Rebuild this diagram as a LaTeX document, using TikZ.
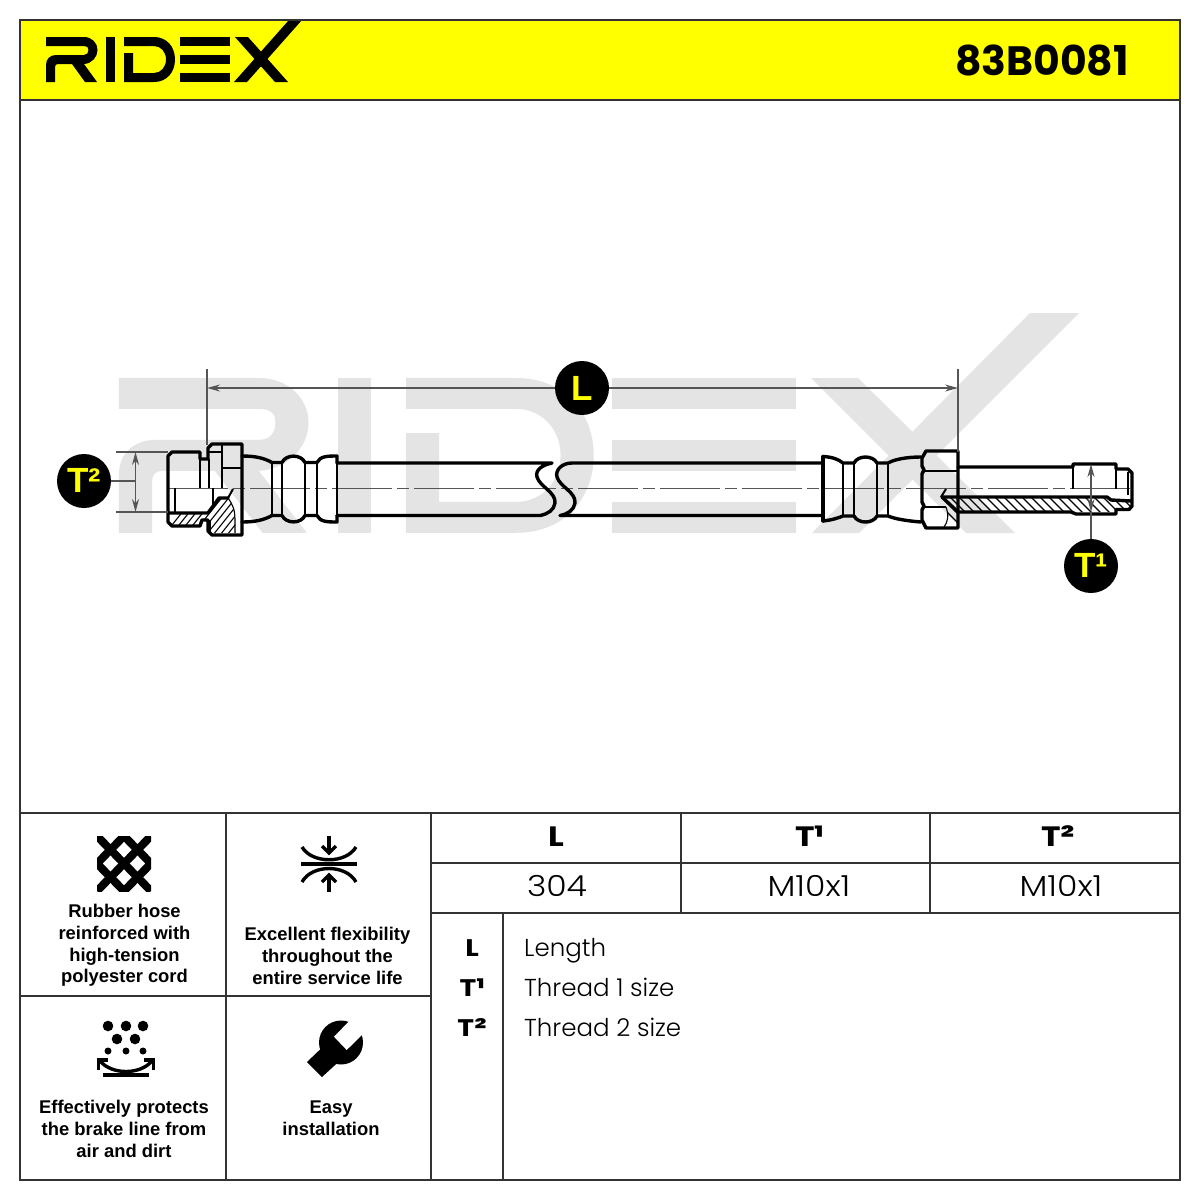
\documentclass[tikz,border=0pt]{standalone}
\usepackage{fontspec}
\setmainfont{Poppins}
\newfontfamily\capfont{Liberation Sans}
\newfontfamily\markfont{Liberation Sans}
\newfontfamily\valfont[FakeStretch=1.14,UprightFont={* Light}]{Poppins}
\newfontfamily\legfont[UprightFont={* Light}]{Poppins}
\newfontfamily\headfont[FakeStretch=1.18,BoldFont={* Bold}]{Poppins}
\usetikzlibrary{arrows.meta}
\definecolor{wm}{HTML}{E4E4E4}
\definecolor{frameC}{HTML}{333333}
\definecolor{dimC}{HTML}{555555}
\definecolor{hdr}{HTML}{FFFF00}
\newcommand{\logoride}[1]{%
  \fill[#1] (46,37) -- (84,37) .. controls (92,37) and (97.5,43) .. (97.5,50) .. controls (97.5,57) and (92,63.5) .. (84,64) -- (97,82) -- (85,82) -- (72,64) -- (58,64) .. controls (56,64) and (55,65) .. (55,67) -- (55,82) -- (46,82) -- (46,65) .. controls (46,59) and (50,55) .. (56,55) -- (84,55) .. controls (87,55) and (88.5,53) .. (88.5,50) .. controls (88.5,47) and (87,46) .. (84,46) -- (46,46) -- cycle;
  \fill[#1] (105.5,37) rectangle (114.5,82);
  \fill[#1] (124,37) -- (154,37) .. controls (167,37) and (175,47) .. (175,59.5) .. controls (175,72) and (167,82) .. (154,82) -- (124,82) -- (124,53) -- (133,53) -- (133,73) -- (154,73) .. controls (161,73) and (166,67) .. (166,59.5) .. controls (166,52) and (161,46) .. (154,46) -- (124,46) -- cycle;
  \fill[#1] (180,37) rectangle (230,46);
  \fill[#1] (180,55) rectangle (230,64);
  \fill[#1] (180,73) rectangle (230,82);
}
\tikzset{
  outline/.style={line width=3.4pt,line join=round,line cap=round,black},
  inner/.style={line width=2pt,black},
  thinl/.style={line width=1.1pt,black},
  dimline/.style={line width=1.3pt,dimC},
  dimarrow/.style={line width=1.3pt,dimC,{Stealth[length=13pt,width=7pt]}-{Stealth[length=13pt,width=7pt]}},
  badge/.style={circle,fill=black,minimum size=54pt,inner sep=0pt,text=hdr,font=\markfont\bfseries\fontsize{35}{35}\selectfont},
  grid/.style={line width=2pt,frameC},
  caption/.style={align=center,font=\capfont\bfseries\fontsize{18.4}{21.7}\selectfont,text=black,inner sep=0pt},
  headcell/.style={font=\headfont\bfseries\fontsize{28}{28}\selectfont,text=black,inner sep=0pt,anchor=base},
  valcell/.style={font=\valfont\fontsize{29}{29}\selectfont,text=black,inner sep=0pt,anchor=base},
  legkey/.style={font=\headfont\bfseries\fontsize{24}{24}\selectfont,text=black,inner sep=0pt,anchor=base},
  legval/.style={font=\legfont\fontsize{24.5}{24.5}\selectfont,text=black,inner sep=0pt,anchor=base west},
}
\newcommand{\bigsup}[3]{\raisebox{#1pt}{\fontsize{#2}{#2}\selectfont #3}}
\begin{document}
\begin{tikzpicture}[x=1pt,y=-1pt]
\useasboundingbox (0,0) rectangle (1200,1200);
\fill[white] (0,0) rectangle (1200,1200);
% header
\fill[hdr] (20,20) rectangle (1180,100);
\logoride{black}
\fill[black] (235,37) -- (248,37) -- (288,82) -- (275,82) -- cycle;
\fill[black] (234,82) -- (289,20) -- (302,20) -- (247,82) -- cycle;
\node[font=\bfseries\fontsize{41}{41}\selectfont,inner sep=0pt] (code) at (1042,60) {83B0081};
% watermark
\begin{scope}[shift={(-50.3,250.7)},x=3.68pt,y=-3.44pt]
  \logoride{wm}
\end{scope}
\fill[wm] (811,378) -- (858,378) -- (1015,533) -- (966,533) -- cycle;
\fill[wm] (812,533) -- (859,533) -- (1079,313) -- (1030,313) -- cycle;
% frame and table
\draw[grid] (20,100) -- (1180,100);
\draw[grid] (20,813) -- (1180,813);
\draw[grid] (226,813) -- (226,1180);
\draw[grid] (431,813) -- (431,1180);
\draw[grid] (20,996) -- (431,996);
\draw[grid] (431,863) -- (1180,863);
\draw[grid] (431,913) -- (1180,913);
\draw[grid] (681,813) -- (681,913);
\draw[grid] (930,813) -- (930,913);
\draw[grid] (503,913) -- (503,1180);
\draw[grid] (20,20) rectangle (1180,1180);
% centre line
\draw[line width=1.5pt,dimC,dash pattern=on 60pt off 5pt on 12pt off 5pt] (168,488.5) -- (1133,488.5);
% hatching left
\begin{scope}
  \clip (171,513) -- (208,513) -- (219,498) -- (228,498) .. controls (233,505) and (235,510) .. (235,520) -- (235,533) -- (210,533) -- (210,520) -- (202,520) -- (200,526) -- (172,526) -- cycle;
  \foreach \k in {0,7,...,100} \draw[thinl] (160+\k,540) -- (200+\k,490);
\end{scope}
% hatching right
\begin{scope}
  \clip (942,497) -- (1107,497) -- (1111,500) -- (1130,501) -- (1130,509) -- (1116,510) -- (1116,512) -- (1073,512) -- (958,512) -- (958,527) -- (950,527) -- (947,510) -- cycle;
  \foreach \k in {0,9,...,220} \draw[thinl] (925+\k,490) -- (965+\k,530);
\end{scope}
% left fitting
\draw[outline] (172,452) -- (200,452) -- (200,459) -- (208,459) -- (208,448) -- (212,444) -- (242,444) -- (242,535) -- (212,535) -- (208,531) -- (208,520) -- (202,520) -- (200,526) -- (172,526) -- (168,522) -- (168,456) -- cycle;
\draw[inner] (222,444) -- (222,488);
\draw[inner] (209,452) -- (222,452);
\draw[inner] (223,468) -- (241,468);
\draw[inner] (200,459) -- (200,488);
\draw[inner] (209,459) -- (209,488);
\draw[inner] (175,488) -- (175,513);
\draw[inner] (213,488) -- (213,507);
\draw[outline] (169,513) -- (208,513) -- (219,498) -- (228,498);
\draw[inner] (228,498) -- (233,489);
\draw[thinl] (228,498) .. controls (233,505) and (235,510) .. (235,520) -- (235,533);
\draw[thinl] (210,533) -- (210,520);
% left crimp
\draw[outline] (242,456) .. controls (255,456) and (264,458) .. (272,462.5) -- (282,462.5) .. controls (286,454) and (301,454) .. (305,462.5) -- (317,462.5) .. controls (320,456) and (328,456) .. (337,456) -- (337,463);
\draw[outline] (242,522) .. controls (255,522) and (264,520) .. (272,515.5) -- (282,515.5) .. controls (286,524) and (301,524) .. (305,515.5) -- (317,515.5) .. controls (320,522) and (328,522) .. (337,522) -- (337,515.5);
\foreach \x in {272,282,305,317} \draw[inner] (\x,462.5) -- (\x,515.5);
\draw[inner] (337,456) -- (337,522);
% hose with break
\draw[outline] (337,463) -- (552,463) .. controls (542,465) and (535,470) .. (537,477) .. controls (540,487) and (556,492) .. (555,503) .. controls (554,510) and (548,514) .. (540,515.5) -- (337,515.5);
\draw[outline] (823,463) -- (572,463) .. controls (562,463) and (555,470) .. (557,477) .. controls (560,487) and (576,492) .. (575,503) .. controls (574,510) and (568,514) .. (560,515.5) -- (823,515.5);
% right crimp
\draw[outline] (823,456.5) -- (823,521);
\draw[outline] (823,456.5) .. controls (832,457) and (838,459) .. (843,463) -- (854,463) .. controls (858,455) and (873,455) .. (877,463) -- (888,463) .. controls (895,459) and (908,457) .. (921,457);
\draw[outline] (823,521) .. controls (832,520) and (838,518) .. (843,516) -- (854,516) .. controls (858,524) and (873,524) .. (877,516) -- (888,516) .. controls (895,519) and (908,521) .. (921,522);
\foreach \x in {843,854,877,888} \draw[inner] (\x,463) -- (\x,516);
% right hex
\draw[outline] (926,451) -- (958,451) -- (958,528) -- (926,528) -- (922,520) -- (922,510) -- (924,506) -- (922,502) -- (922,474) -- (924,470) -- (922,466) -- (922,458) -- cycle;
\draw[inner] (923,471) -- (957,471);
\draw[inner] (923,507) -- (946,507);
\draw[inner] (946,489) -- (941,497);
\draw[thinl] (946,507) .. controls (949,515) and (948,522) .. (944,527);
% right tube
\draw[outline] (958,467) -- (1073,467) -- (1073,464) -- (1116,464) -- (1116,469) -- (1128,469) -- (1132,473) -- (1132,506) -- (1129,509.5) -- (1116,509.5) -- (1116,514) -- (1076,514) -- (1071,512) -- (958,512);
\draw[inner] (1073,467) -- (1073,489);
\draw[inner] (1116,469) -- (1116,489);
\draw[inner] (1128,472) -- (1128,495);
\draw[outline] (942,497) -- (1107,497) -- (1111,500) -- (1131,501);
\draw[outline] (942,497) -- (958,512);
% dimensions
\coordinate (La) at (207,388);
\coordinate (Lb) at (958,388);
\coordinate (LaTop) at (207,369);
\coordinate (LbTop) at (958,369);
\coordinate (LaBot) at (207,445);
\coordinate (LbBot) at (958,452);
\draw[dimline] (LaTop) -- (LaBot);
\draw[dimline] (LbTop) -- (LbBot);
\draw[dimarrow] (La) -- (Lb);
\node[badge] (badgeL) at (582,388) {L};
\coordinate (T2top) at (135.5,452);
\coordinate (T2bot) at (135.5,512);
\draw[dimline] (116,452) -- (168,452);
\draw[dimline] (116,512) -- (168,512);
\draw[dimarrow] (T2top) -- (T2bot);
\node[badge] (badgeT2) at (84,481) {T\bigsup{-2}{37}{²}};
\draw[dimline] (badgeT2) -- (135.5,481);
\coordinate (T1top) at (1091,464);
\coordinate (T1bot) at (1091,512);
\draw[dimarrow] (T1top) -- (T1bot);
\node[badge] (badgeT1) at (1091,566) {T\bigsup{-2}{37}{¹}};
\draw[dimline] (T1bot) -- (badgeT1);
% icon 1: lattice
\begin{scope}
  \clip (97,836) rectangle (151,891);
  \draw[line width=8pt] (97,863.5) -- (124,836) -- (151,863.5) -- (124,891) -- cycle;
  \draw[line width=8pt] (97,836) -- (151,891);
  \draw[line width=8pt] (151,836) -- (97,891);
\end{scope}
% icon 2: flexibility
\draw[line width=4pt] (301,864) -- (357,864);
\draw[line width=3.4pt] (302,847) .. controls (312,864) and (346,864) .. (356,847);
\draw[line width=3.4pt] (302,882) .. controls (312,864) and (346,864) .. (356,882);
\draw[line width=3.4pt] (329,836) -- (329,852);
\draw[line width=3.4pt] (322,846) -- (329,853) -- (336,846);
\draw[line width=3.4pt] (329,892) -- (329,876);
\draw[line width=3.4pt] (322,882) -- (329,875) -- (336,882);
% icon 3: dirt
\foreach \x/\y/\r in {108/1026/5.3,126/1026/5.3,143/1026/5.3,117/1039/5.3,135/1039/5.3,108/1051/3.5,126/1051/3.5,143/1051/3.5}
  \fill (\x,\y) circle[radius=\r pt];
\draw[line width=3.4pt] (100,1061) .. controls (112,1075) and (140,1075) .. (152,1061);
\draw[line width=3.4pt] (98.5,1070) -- (98.5,1060) -- (108,1060);
\draw[line width=3.4pt] (153.5,1070) -- (153.5,1060) -- (144,1060);
\draw[line width=3.4pt] (103,1075) -- (149,1075);
% icon 4: wrench
\fill (341,1042.5) circle[radius=22pt];
\fill (307,1062) -- (322,1077) -- (346,1055) -- (330,1040) -- cycle;
\fill[white] (334,1036.7) -- (346.7,1050) -- (372,1025) -- (359,1011) -- cycle;
% captions
\node[caption] (cap1) at (124.5,945.5) {Rubber hose\\reinforced with\\high-tension\\polyester cord};
\node[caption] (cap2) at (327.5,956) {Excellent flexibility\\throughout the\\entire service life};
\node[caption] (cap3) at (124,1129) {Effectively protects\\the brake line from\\air and dirt};
\node[caption] (cap4) at (331,1118) {Easy\\installation};
% table text
\node[headcell] (hL) at (556,846) {L};
\node[headcell] (hT1) at (809.5,846) {T\bigsup{-2}{32}{¹}};
\node[headcell] (hT2) at (1058,846) {T\bigsup{-2}{32}{²}};
\node[valcell] (vL) at (557,896) {304};
\node[valcell] (vT1) at (809,896) {M10x1};
\node[valcell] (vT2) at (1061,896) {M10x1};
\node[legkey] (kL) at (472,956) {L};
\node[legkey] (kT1) at (472,996) {T\bigsup{-2}{28}{¹}};
\node[legkey] (kT2) at (472,1036) {T\bigsup{-2}{28}{²}};
\node[legval] (dL) at (524,956) {Length};
\node[legval] (dT1) at (524,996) {Thread 1 size};
\node[legval] (dT2) at (524,1036) {Thread 2 size};
\end{tikzpicture}
\end{document}
